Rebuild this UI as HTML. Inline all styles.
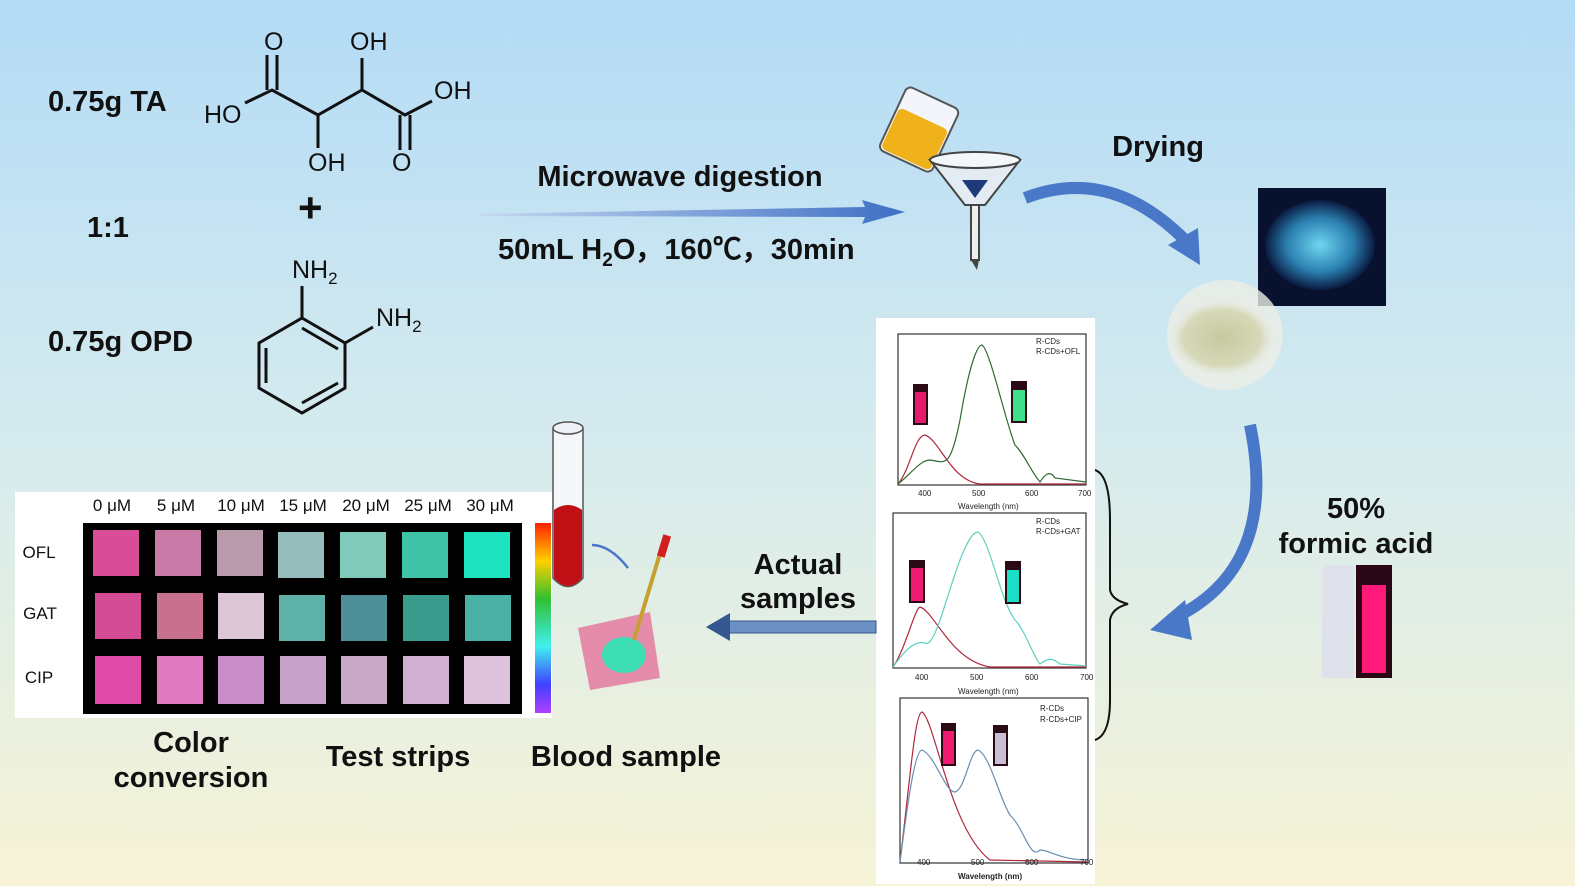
<!DOCTYPE html>
<html><head><meta charset="utf-8"><style>
html,body{margin:0;padding:0;width:1575px;height:886px;overflow:hidden}
svg{display:block}
text{font-family:"Liberation Sans",Arial,sans-serif}
</style></head><body>
<svg width="1575" height="886" viewBox="0 0 1575 886" xmlns="http://www.w3.org/2000/svg">
<defs>
<linearGradient id="bg" x1="0" y1="0" x2="0" y2="1">
<stop offset="0" stop-color="#b3dbf6"/><stop offset="0.5" stop-color="#d6ebee"/><stop offset="1" stop-color="#f6f3d6"/>
</linearGradient>
<linearGradient id="ar" x1="0" y1="0" x2="1" y2="0">
<stop offset="0" stop-color="#c5d8f0"/><stop offset="1" stop-color="#3f6fc4"/>
</linearGradient>
<linearGradient id="rb" x1="0" y1="0" x2="0" y2="1">
<stop offset="0" stop-color="#ff2000"/><stop offset="0.2" stop-color="#ffd000"/><stop offset="0.4" stop-color="#30c030"/><stop offset="0.65" stop-color="#40f0f0"/><stop offset="0.85" stop-color="#4040ff"/><stop offset="1" stop-color="#b040ff"/>
</linearGradient>
<radialGradient id="bp"><stop offset="0" stop-color="#6fd6f0"/><stop offset="0.6" stop-color="#2a7fb0"/><stop offset="1" stop-color="#0a1a40"/></radialGradient>
<radialGradient id="wp"><stop offset="0" stop-color="#c8c9a0"/><stop offset="0.7" stop-color="#d6d8b8"/><stop offset="1" stop-color="#eef0ea" stop-opacity="0"/></radialGradient>
</defs>
<rect width="1575" height="886" fill="url(#bg)"/>

<g font-weight="bold" font-size="29" fill="#111">
<text x="48" y="111">0.75g TA</text>
<text x="87" y="237">1:1</text>
<text x="48" y="351">0.75g OPD</text>
</g>
<g stroke="#111" stroke-width="3" fill="none">
<polyline points="245,103 272,90 318,115 362,90 405,115 432,101"/>
<line x1="267" y1="90" x2="267" y2="55"/><line x1="277" y1="90" x2="277" y2="55"/>
<line x1="318" y1="115" x2="318" y2="148"/>
<line x1="362" y1="90" x2="362" y2="58"/>
<line x1="400" y1="115" x2="400" y2="150"/><line x1="410" y1="115" x2="410" y2="150"/>
</g>
<g font-size="25" fill="#111">
<text x="204" y="123">HO</text><text x="264" y="50">O</text><text x="350" y="50">OH</text>
<text x="308" y="171">OH</text><text x="392" y="171">O</text><text x="434" y="99">OH</text>
<text x="292" y="278">NH<tspan font-size="17" dy="6">2</tspan></text>
<text x="376" y="326">NH<tspan font-size="17" dy="6">2</tspan></text>
</g>
<text x="298" y="222" font-size="42" font-weight="bold" fill="#111">+</text>
<g stroke="#111" stroke-width="3" fill="none">
<polygon points="302,318 345,343 345,388 302,413 259,388 259,343"/>
<line x1="302" y1="328" x2="338" y2="349"/><line x1="338" y1="383" x2="302" y2="403"/><line x1="266" y1="383" x2="266" y2="348"/>
<line x1="302" y1="318" x2="302" y2="286"/><line x1="345" y1="343" x2="373" y2="327"/>
</g>

<polygon points="480,214 865,207 862,200 905,212 862,224 865,217 480,216" fill="url(#ar)"/>
<text x="680" y="186" font-size="29" font-weight="bold" fill="#111" text-anchor="middle">Microwave digestion</text>
<text x="498" y="259" font-size="29" font-weight="bold" fill="#111">50mL H<tspan font-size="19" dy="7">2</tspan><tspan dy="-7">O，160℃，30min</tspan></text>

<g transform="rotate(25 920 130)">
<rect x="890" y="95" width="58" height="70" rx="6" fill="#f2f6fa" stroke="#555" stroke-width="2"/>
<rect x="892" y="118" width="54" height="45" rx="5" fill="#f0b21a"/>
</g>
<polygon points="930,160 1020,160 985,205 965,205" fill="#e4ecf3" stroke="#444" stroke-width="2"/>
<ellipse cx="975" cy="160" rx="45" ry="8" fill="#f4f7fa" stroke="#444" stroke-width="2"/>
<polygon points="962,180 988,180 975,198" fill="#1e3a7a"/>
<rect x="971" y="205" width="8" height="55" fill="#eee" stroke="#444" stroke-width="2"/>
<polygon points="971,260 979,260 977,270" fill="#444"/>

<text x="1158" y="156" font-size="29" font-weight="bold" fill="#111" text-anchor="middle">Drying</text>
<path d="M1025,198 Q1110,165 1185,240" stroke="#4a78c8" stroke-width="12" fill="none"/>
<polygon points="1168,245 1200,265 1198,228" fill="#4a78c8"/>

<rect x="1258" y="188" width="128" height="118" fill="#08122e"/>
<ellipse cx="1320" cy="245" rx="55" ry="45" fill="url(#bp)"/>
<ellipse cx="1225" cy="335" rx="58" ry="55" fill="#eceee6" opacity="0.8"/>
<ellipse cx="1222" cy="338" rx="55" ry="40" fill="url(#wp)"/>

<path d="M1250,425 Q1280,570 1170,620" stroke="#4a78c8" stroke-width="12" fill="none"/>
<polygon points="1150,630 1185,600 1192,640" fill="#4a78c8"/>

<text x="1356" y="518" font-size="29" font-weight="bold" fill="#111" text-anchor="middle">50%</text>
<text x="1356" y="553" font-size="29" font-weight="bold" fill="#111" text-anchor="middle">formic acid</text>
<rect x="1322" y="565" width="32" height="113" fill="#dfe2ea"/>
<rect x="1356" y="565" width="36" height="113" fill="#2a0714"/>
<rect x="1362" y="585" width="24" height="88" fill="#ff1a7a"/>

<rect x="876" y="318" width="219" height="566" fill="#fff"/>
<g fill="none" stroke-width="1.2">
<rect x="898" y="334" width="188" height="151" stroke="#333"/>
<rect x="893" y="513" width="193" height="155" stroke="#333"/>
<rect x="900" y="698" width="188" height="165" stroke="#333"/>
<path d="M898,484 C910,470 915,435 925,435 C940,440 950,480 980,484 L1086,484" stroke="#b0263a"/>
<path d="M898,484 C910,475 920,460 930,460 C945,462 950,470 960,420 C970,360 978,345 982,345 C990,350 1005,420 1015,445 C1025,455 1030,470 1040,482 C1045,474 1050,470 1055,478 L1086,482" stroke="#2f6b33"/>
<path d="M893,667 C905,650 915,608 920,607 C935,612 950,660 990,667 L1086,667" stroke="#b0263a"/>
<path d="M893,667 C905,650 915,640 925,643 C935,648 945,600 960,560 C968,540 973,532 978,532 C990,540 1000,600 1015,620 C1025,630 1035,660 1040,664 C1050,656 1055,660 1060,664 L1086,666" stroke="#5fd0c0"/>
<path d="M900,862 C910,780 915,712 922,712 C935,720 950,830 990,860 L1088,862" stroke="#b0263a"/>
<path d="M900,862 C908,800 915,750 922,750 C935,755 945,792 955,792 C965,790 970,750 978,750 C990,755 1000,800 1010,815 C1025,830 1030,860 1040,850 C1050,850 1060,860 1088,860" stroke="#6a8db0"/>
</g>
<g fill="#2a0a14"><rect x="913" y="384" width="15" height="41"/><rect x="1011" y="381" width="16" height="42"/><rect x="909" y="560" width="16" height="43"/><rect x="1005" y="561" width="16" height="43"/><rect x="941" y="723" width="15" height="43"/><rect x="993" y="725" width="15" height="41"/></g>
<g><rect x="915" y="392" width="11" height="31" fill="#e51a6a"/><rect x="1013" y="390" width="12" height="31" fill="#3ee088"/><rect x="911" y="568" width="12" height="33" fill="#f01a70"/><rect x="1007" y="570" width="12" height="32" fill="#1adfc6"/><rect x="943" y="731" width="11" height="33" fill="#f01a70"/><rect x="995" y="733" width="11" height="31" fill="#c9c0d8"/></g>
<g font-family="Liberation Serif" font-size="8" fill="#222">
<text x="1036" y="344">R-CDs</text><text x="1036" y="354">R-CDs+OFL</text>
<text x="1036" y="524">R-CDs</text><text x="1036" y="534">R-CDs+GAT</text>
<text x="1040" y="711">R-CDs</text><text x="1040" y="722">R-CDs+CIP</text>
<text x="958" y="509">Wavelength (nm)</text><text x="958" y="694">Wavelength (nm)</text><text x="958" y="879" font-weight="bold">Wavelength (nm)</text>
<text x="918" y="496">400</text><text x="972" y="496">500</text><text x="1025" y="496">600</text><text x="1078" y="496">700</text>
<text x="915" y="680">400</text><text x="970" y="680">500</text><text x="1025" y="680">600</text><text x="1080" y="680">700</text>
<text x="917" y="865">400</text><text x="971" y="865">500</text><text x="1025" y="865">600</text><text x="1080" y="865">700</text>
</g>
<path d="M1095,470 Q1110,475 1110,520 L1110,590 Q1112,600 1128,604 Q1112,608 1110,620 L1110,700 Q1110,735 1095,740" stroke="#111" stroke-width="2" fill="none"/>

<text x="798" y="574" font-size="29" font-weight="bold" fill="#111" text-anchor="middle">Actual</text>
<text x="798" y="608" font-size="29" font-weight="bold" fill="#111" text-anchor="middle">samples</text>
<rect x="726" y="621" width="150" height="12" fill="#6c8fc4" stroke="#35578f"/>
<polygon points="706,627 730,613 730,641" fill="#35578f"/>

<rect x="15" y="492" width="537" height="226" fill="#fff"/>
<rect x="83" y="523" width="439" height="191" fill="#000"/>
<rect x="535" y="523" width="16" height="190" fill="url(#rb)"/>
<g font-size="17" fill="#111" text-anchor="middle">
<text x="112" y="511">0 μM</text><text x="176" y="511">5 μM</text><text x="241" y="511">10 μM</text><text x="303" y="511">15 μM</text><text x="366" y="511">20 μM</text><text x="428" y="511">25 μM</text><text x="490" y="511">30 μM</text>
<text x="39" y="558">OFL</text><text x="40" y="619">GAT</text><text x="39" y="683">CIP</text>
</g>
<g>
<rect x="93" y="530" width="46" height="46" fill="#d94c98"/><rect x="155" y="530" width="46" height="46" fill="#c97aa6"/><rect x="217" y="530" width="46" height="46" fill="#b89aaa"/><rect x="278" y="532" width="46" height="46" fill="#96bcbc"/><rect x="340" y="532" width="46" height="46" fill="#7fcab8"/><rect x="402" y="532" width="46" height="46" fill="#3ec3a6"/><rect x="464" y="532" width="46" height="46" fill="#1ee2c0"/>
<rect x="95" y="593" width="46" height="46" fill="#d34b92"/><rect x="157" y="593" width="46" height="46" fill="#c9708e"/><rect x="218" y="593" width="46" height="46" fill="#dcc6d6"/><rect x="279" y="595" width="46" height="46" fill="#5fb2a8"/><rect x="341" y="595" width="46" height="46" fill="#4d8e98"/><rect x="403" y="595" width="46" height="46" fill="#3a9c8c"/><rect x="465" y="595" width="46" height="46" fill="#4ab0a6"/>
<rect x="95" y="656" width="46" height="48" fill="#de4aa6"/><rect x="157" y="656" width="46" height="48" fill="#e07ac0"/><rect x="218" y="656" width="46" height="48" fill="#c88cc6"/><rect x="280" y="656" width="46" height="48" fill="#c6a2c8"/><rect x="341" y="656" width="46" height="48" fill="#c9a8c6"/><rect x="403" y="656" width="46" height="48" fill="#d0b0d0"/><rect x="464" y="656" width="46" height="48" fill="#dcc2da"/>
</g>

<path d="M553,428 L553,578 Q568,595 583,578 L583,428" fill="#f4f6f8" stroke="#555" stroke-width="1.5"/>
<ellipse cx="568" cy="428" rx="15" ry="6" fill="#eef2f6" stroke="#555" stroke-width="1.5"/>
<path d="M554,510 Q568,500 582,510 L582,578 Q568,594 554,578 Z" fill="#c01015"/>
<path d="M592,545 Q610,545 628,568" stroke="#4a78c8" stroke-width="2.5" fill="none"/>
<polygon points="578,628 650,612 660,678 590,690" fill="#e58cab"/>
<ellipse cx="624" cy="655" rx="22" ry="18" fill="#3edfb5"/>
<line x1="664" y1="540" x2="634" y2="640" stroke="#c6a030" stroke-width="4"/>
<rect x="660" y="535" width="8" height="22" fill="#d02020" transform="rotate(17 664 546)"/>

<g font-size="29" font-weight="bold" fill="#111" text-anchor="middle">
<text x="191" y="752">Color</text><text x="191" y="787">conversion</text>
<text x="398" y="766">Test strips</text><text x="626" y="766">Blood sample</text>
</g>
</svg>
</body></html>
